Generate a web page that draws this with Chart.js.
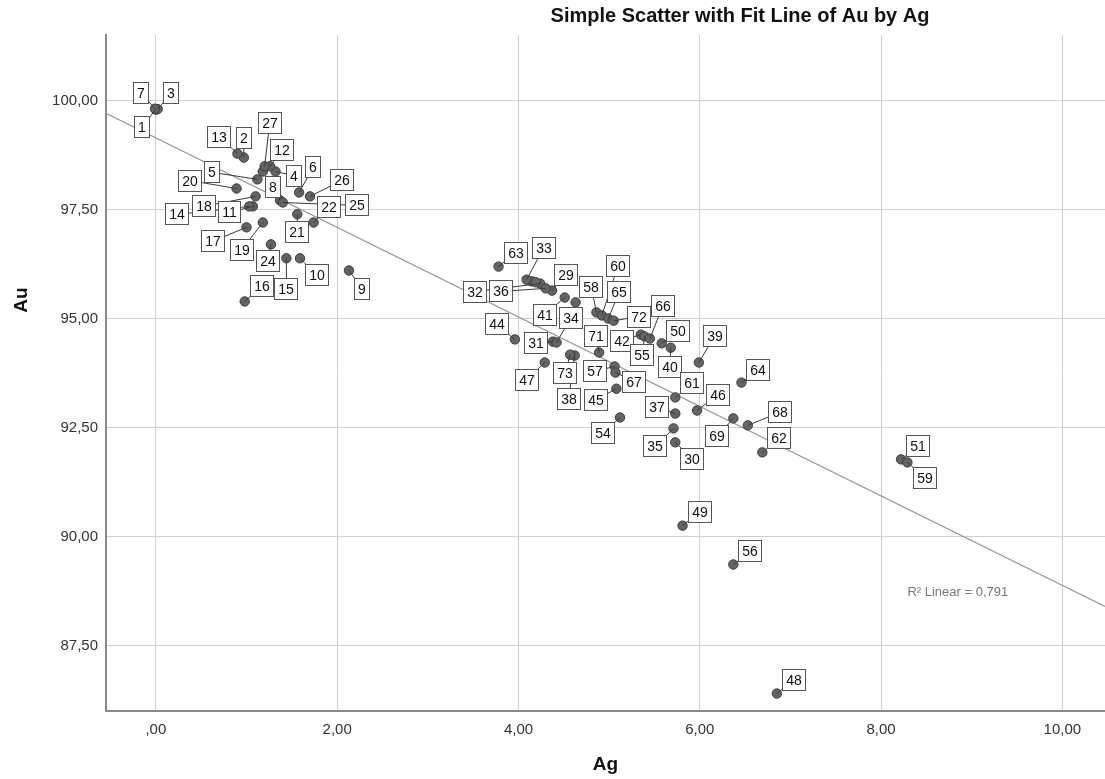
<!DOCTYPE html>
<html><head><meta charset="utf-8">
<script src="https://cdn.jsdelivr.net/npm/chart.js@4.4.1/dist/chart.umd.min.js"></script>
<style>html,body{margin:0;padding:0;background:#fff;overflow:hidden;}#wrap{width:1105px;height:779px;position:relative;}</style>
</head><body><div id="wrap"><canvas id="c"></canvas></div>
<script>
const caseIds = [1,2,3,4,5,6,7,8,9,10,11,12,13,14,15,16,17,18,19,20,21,22,23,24,25,26,27,28,29,30,31,32,33,34,35,36,37,38,39,40,41,42,43,44,45,46,47,48,49,50,51,52,54,55,56,57,58,59,60,61,62,63,64,65,66,67,68,69,71,72,73];
const agValues = [0.00,0.97,0.02,1.32,1.12,1.58,-0.01,1.37,2.13,1.59,1.07,1.26,0.90,1.03,1.44,0.98,1.00,1.10,1.18,0.89,1.56,1.74,1.18,1.27,1.40,1.70,1.20,4.15,4.37,5.73,4.38,4.24,4.09,4.42,5.71,4.30,5.73,4.62,5.99,5.68,4.51,5.35,4.19,3.96,5.08,5.97,4.29,6.85,5.81,5.58,8.22,4.63,5.12,5.39,6.37,5.06,4.86,8.29,4.92,5.73,6.69,3.78,6.46,4.99,5.45,5.07,6.53,6.37,4.89,5.05,4.57];
const auValues = [99.79,98.69,99.80,98.37,98.19,97.89,99.81,97.71,96.10,96.38,97.57,98.49,98.78,97.57,96.38,95.39,97.09,97.80,97.20,97.98,97.39,97.20,98.37,96.70,97.66,97.80,98.49,95.85,95.64,92.16,94.47,95.80,95.89,94.45,92.48,95.69,92.82,94.15,93.99,94.33,95.48,94.63,95.83,94.52,93.39,92.89,93.99,86.40,90.25,94.43,91.77,95.37,92.73,94.59,89.36,93.90,95.14,91.70,95.07,93.19,91.93,96.19,93.53,95.00,94.54,93.76,92.55,92.71,94.22,94.95,94.17];
const xTickValues = [0,2,4,6,8,10];
const yTickValues = [87.5,90,92.5,95,97.5,100];
const fitIntercept = 99.14;
const fitSlope = -1.026;
const chartTitle = 'Simple Scatter with Fit Line of Au by Ag';
const xTitle = 'Ag';
const yTitle = 'Au';
const rSquaredText = 'R\u00B2 Linear = 0,791';

const X_MIN = -0.55, X_MAX = 10.47, Y_MIN = 86.0, Y_MAX = 101.5;

const labelOffsets = {
 1:[-14,17],2:[0,-20],3:[13,-16],4:[18,4],5:[-45,-7],6:[14,-25],7:[-14,-16],8:[-7,-13],9:[13,18],10:[17,17],
 11:[-23,6],12:[12,-16],13:[-18,-17],14:[-72,8],15:[0,31],16:[17,-15],17:[-34,14],18:[-52,10],19:[-21,27],20:[-47,-8],
 21:[0,18],22:[15,-16],24:[-3,17],25:[74,3],26:[32,-16],27:[5,-43],29:[14,-16],30:[17,17],31:[-17,1],32:[-65,8],
 33:[17,-32],34:[14,-24],35:[-18,18],36:[-45,3],37:[-18,-7],38:[-6,43],39:[16,-27],40:[-1,19],41:[-20,17],42:[-19,6],
 44:[-18,-15],45:[-20,11],46:[21,-16],47:[-18,17],48:[17,-14],49:[17,-14],50:[16,-12],51:[17,-13],54:[-17,16],55:[-2,19],
 56:[17,-13],57:[-20,5],58:[-5,-25],59:[18,16],60:[16,-49],61:[17,-14],62:[17,-14],63:[17,-14],64:[17,-13],65:[11,-26],
 66:[13,-33],67:[19,9],68:[32,-13],69:[-16,18],71:[-3,-17],72:[25,-4],73:[-5,18]
};

function fmt(v){ let s = Number(v).toFixed(2).replace('.', ','); if (s.startsWith('0,')) s = s.slice(1); return s; }

const points = agValues.map((x,i)=>({x:x, y:auValues[i]}));
const fitLine = [X_MIN, X_MAX].map(x=>({x:x, y:fitIntercept + fitSlope*x}));

const decorPlugin = {
  id:'decor',
  afterDatasetsDraw(chart){
    const ctx = chart.ctx, meta = chart.getDatasetMeta(0);
    const xs = chart.scales.x, ys = chart.scales.y;
    ctx.save();
    ctx.font = '13px Arial, "Liberation Sans"';
    ctx.fillStyle = '#777'; ctx.textAlign='left'; ctx.textBaseline='middle';
    ctx.fillText(rSquaredText, xs.getPixelForValue(8.29), ys.getPixelForValue(88.72));
    ctx.font = '14px Arial, "Liberation Sans"';
    ctx.strokeStyle = '#3a3a3a'; ctx.lineWidth = 1;
    meta.data.forEach((pt,i)=>{
      const off = labelOffsets[caseIds[i]]; if(!off) return;
      ctx.beginPath(); ctx.moveTo(pt.x, pt.y); ctx.lineTo(pt.x+off[0], pt.y+off[1]); ctx.stroke();
    });
    meta.data.forEach((pt,i)=>{
      const id = caseIds[i]; const off = labelOffsets[id]; if(!off) return;
      const t = String(id); const w = Math.round(ctx.measureText(t).width + 8), h = 22;
      const bx = Math.round(pt.x+off[0]-w/2), by = Math.round(pt.y+off[1]-h/2);
      ctx.fillStyle='#fff'; ctx.fillRect(bx,by,w,h);
      ctx.strokeStyle='#555'; ctx.lineWidth=1; ctx.strokeRect(bx+0.5,by+0.5,w-1,h-1);
      ctx.fillStyle='#111'; ctx.textAlign='center'; ctx.textBaseline='middle';
      ctx.fillText(t, bx+w/2, by+h/2+1);
    });
    ctx.restore();
  },
  afterDraw(chart){
    const ctx = chart.ctx, ca = chart.chartArea;
    ctx.save();
    ctx.fillStyle='#111';
    ctx.font='bold 20px Arial, "Liberation Sans"';
    ctx.textAlign='center'; ctx.textBaseline='middle';
    ctx.fillText(chartTitle, 740, 16);
    ctx.font='bold 19px Arial, "Liberation Sans"';
    ctx.fillText(xTitle, (ca.left+ca.right)/2, 765);
    ctx.translate(22, 300); ctx.rotate(-Math.PI/2);
    ctx.fillText(yTitle, 0, 0);
    ctx.restore();
  }
};

new Chart(document.getElementById('c'), {
  type:'scatter',
  data:{ datasets:[
    { label:'Au', data:points, order:0, pointRadius:4.7, pointHoverRadius:4.7,
      backgroundColor:'#646464', borderColor:'#3a3a3a', borderWidth:1 },
    { type:'line', label:'Fit', data:fitLine, order:1, showLine:true, pointRadius:0,
      borderColor:'#999', borderWidth:1.2, fill:false }
  ]},
  options:{
    responsive:true, maintainAspectRatio:false, animation:false,
    events:[],
    layout:{ autoPadding:false, padding:{ top:35, right:0, left:0, bottom:0 } },
    plugins:{ legend:{display:false}, title:{display:false}, tooltip:{enabled:false} },
    scales:{
      x:{ type:'linear', min:X_MIN, max:X_MAX,
        afterBuildTicks:s=>{ s.ticks = xTickValues.map(v=>({value:v})); },
        afterFit:s=>{ s.height = 68; s.paddingLeft = 0; s.paddingRight = 0; },
        ticks:{ callback:v=>fmt(v), color:'#333', font:{family:'Arial, "Liberation Sans"', size:15}, padding:10, maxRotation:0, autoSkip:false },
        grid:{ color:'#cfcfcf', lineWidth:1, drawTicks:false },
        border:{ color:'#8a8a8a', width:2 }
      },
      y:{ type:'linear', min:Y_MIN, max:Y_MAX,
        afterBuildTicks:s=>{ s.ticks = yTickValues.map(v=>({value:v})); },
        afterFit:s=>{ s.width = 106; s.paddingTop = 0; s.paddingBottom = 0; },
        ticks:{ callback:v=>fmt(v), color:'#333', font:{family:'Arial, "Liberation Sans"', size:15}, padding:8, autoSkip:false },
        grid:{ color:'#cfcfcf', lineWidth:1, drawTicks:false },
        border:{ color:'#8a8a8a', width:2 }
      }
    }
  },
  plugins:[decorPlugin]
});
</script></body></html>
